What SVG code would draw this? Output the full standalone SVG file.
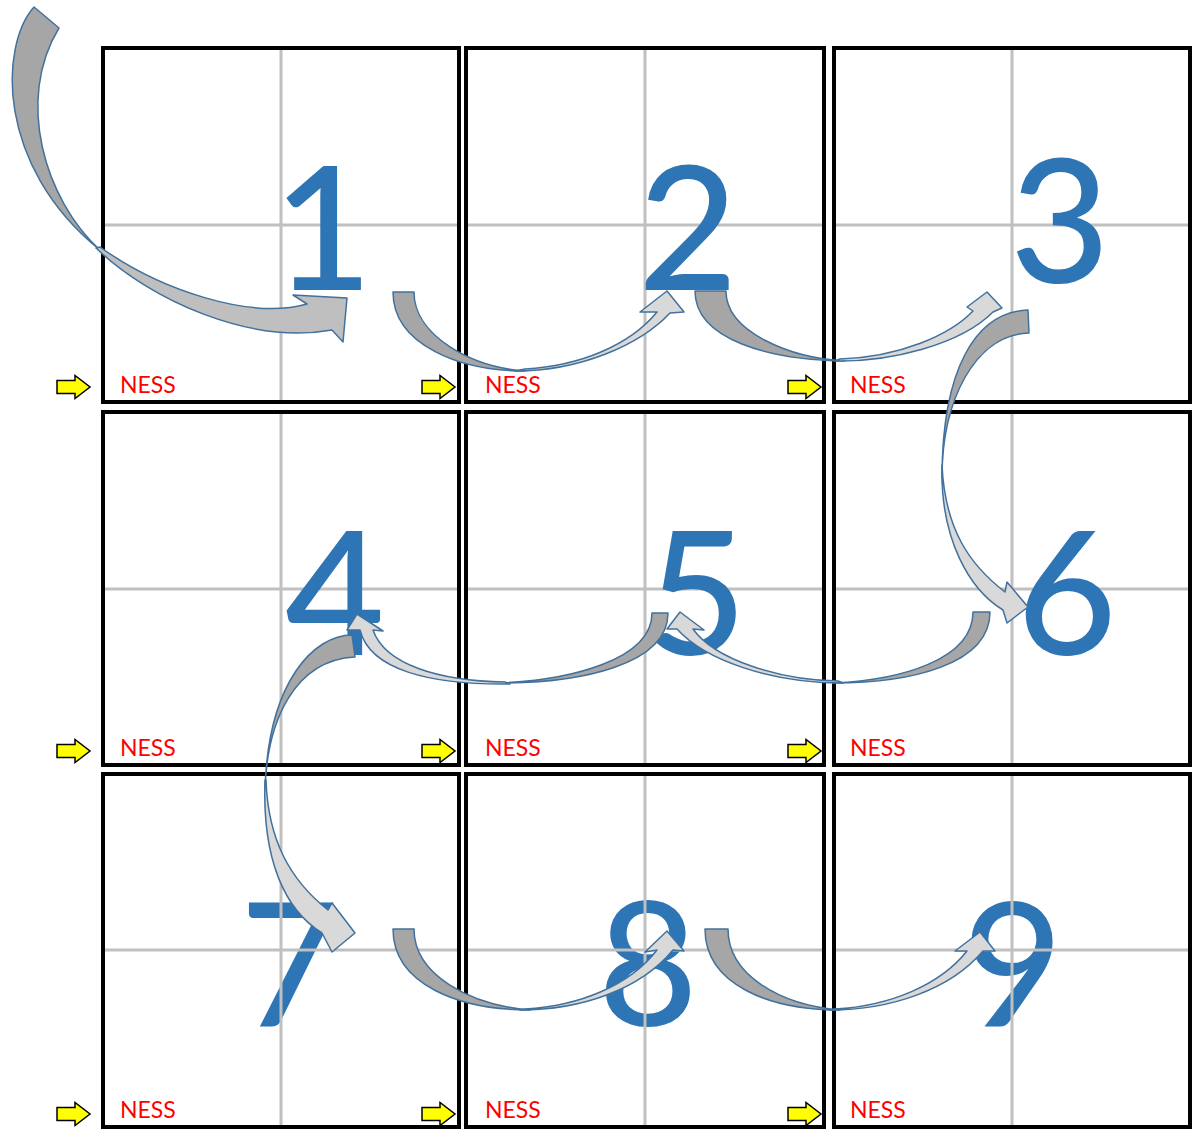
<svg xmlns="http://www.w3.org/2000/svg" width="1195" height="1130" viewBox="0 0 1195 1130">
<style>
.box{fill:#fff;stroke:#000;stroke-width:4}
.grid{stroke:#C0C0C0;stroke-width:3;fill:none}
.num{font-family:Lato,"Open Sans","DejaVu Sans",sans-serif;font-size:172px;font-weight:500;fill:#2E75B6;text-anchor:middle}
.ness{font-family:Lato,"Liberation Sans",sans-serif;font-size:23px;fill:#FF0000}
.ya{fill:#FFFF00;stroke:#000;stroke-width:1.5;stroke-linejoin:miter}
.dark{fill:#A6A6A6;stroke:#41719C;stroke-width:1.5;stroke-linejoin:round}
.light{fill:#D9D9D9;stroke:#41719C;stroke-width:1.5;stroke-linejoin:round}
.lightA{fill:#BFBFBF;stroke:#41719C;stroke-width:1.5;stroke-linejoin:round}
</style>
<defs>
<path id="yarrow" class="ya" d="M0,-6.5 L18,-6.5 L18,-11.5 L33,0 L18,11.5 L18,6.5 L0,6.5 Z"/>
</defs>
<rect width="1195" height="1130" fill="#fff"/>

<g id="box1">
<rect class="box" x="103" y="48" width="356" height="354"/>
<line class="grid" x1="281" y1="50" x2="281" y2="400"/>
<line class="grid" x1="105" y1="225" x2="457" y2="225"/>
<text class="num" x="323" y="290">1</text>
<text class="ness" x="120" y="393">NESS</text>
</g>
<g id="box2">
<rect class="box" x="466" y="48" width="358" height="354"/>
<line class="grid" x1="645" y1="50" x2="645" y2="400"/>
<line class="grid" x1="468" y1="225" x2="822" y2="225"/>
<text class="num" x="688" y="290">2</text>
<text class="ness" x="485" y="393">NESS</text>
</g>
<g id="box3">
<rect class="box" x="834" y="48" width="356" height="354"/>
<line class="grid" x1="1012" y1="50" x2="1012" y2="400"/>
<line class="grid" x1="836" y1="225" x2="1188" y2="225"/>
<text class="num" x="1060" y="283">3</text>
<text class="ness" x="850" y="393">NESS</text>
</g>

<g id="box4">
<rect class="box" x="103" y="412" width="356" height="353"/>
<line class="grid" x1="281" y1="414" x2="281" y2="763"/>
<line class="grid" x1="105" y1="589" x2="457" y2="589"/>
<text class="num" x="335" y="655">4</text>
<text class="ness" x="120" y="756">NESS</text>
</g>
<g id="box5">
<rect class="box" x="466" y="412" width="358" height="353"/>
<line class="grid" x1="645" y1="414" x2="645" y2="763"/>
<line class="grid" x1="468" y1="589" x2="822" y2="589"/>
<text class="num" x="697" y="655">5</text>
<text class="ness" x="485" y="756">NESS</text>
</g>
<g id="box6">
<rect class="box" x="834" y="412" width="356" height="353"/>
<line class="grid" x1="1012" y1="414" x2="1012" y2="763"/>
<line class="grid" x1="836" y1="589" x2="1188" y2="589"/>
<text class="num" x="1067" y="655">6</text>
<text class="ness" x="850" y="756">NESS</text>
</g>

<g id="box7">
<rect class="box" x="103" y="774" width="356" height="353"/>
<text class="num" x="290" y="1026">7</text>
<line class="grid" x1="281" y1="776" x2="281" y2="1125"/>
<line class="grid" x1="105" y1="950" x2="457" y2="950"/>
<text class="ness" x="120" y="1118">NESS</text>
</g>
<g id="box8">
<rect class="box" x="466" y="774" width="358" height="353"/>
<text class="num" x="648" y="1026">8</text>
<line class="grid" x1="645" y1="776" x2="645" y2="1125"/>
<line class="grid" x1="468" y1="950" x2="822" y2="950"/>
<text class="ness" x="485" y="1118">NESS</text>
</g>
<g id="box9">
<rect class="box" x="834" y="774" width="356" height="353"/>
<text class="num" x="1013" y="1026">9</text>
<line class="grid" x1="1012" y1="776" x2="1012" y2="1125"/>
<line class="grid" x1="836" y1="950" x2="1188" y2="950"/>
<text class="ness" x="850" y="1118">NESS</text>
</g>

<g id="markers">
<use href="#yarrow" x="57" y="387"/>
<use href="#yarrow" x="422" y="387"/>
<use href="#yarrow" x="788" y="387"/>
<use href="#yarrow" x="57" y="751"/>
<use href="#yarrow" x="422" y="751"/>
<use href="#yarrow" x="788" y="751"/>
<use href="#yarrow" x="57" y="1114"/>
<use href="#yarrow" x="422" y="1114"/>
<use href="#yarrow" x="788" y="1114"/>
</g>

<g id="connectors">
<path class="dark" d="M34,7 C0,45 -5,165 100,250 C45,200 15,100 59,28 Z"/>
<path class="lightA" d="M96,248 C150,300 250,345 332,330 L343,342 L347,298 L293,295 L307,304 C250,320 160,290 100,247 Z"/>
<path class="dark" d="M393,292 C393,345 460,371 525,371 C470,367 414,335 414,292 Z"/>
<path class="light" d="M515,371 C580,371 640,345 670,313 L684,312 L667,291 L640,312 L657,312 C630,345 580,366 525,369 Z"/>
<path class="dark" d="M695,291 C695,340 770,360 845,361 C790,358 726,332 726,291 Z"/>
<path class="light" d="M835,361 C890,362 960,345 993,312 L1002,308 L987,292 L967,307 L973,311 C950,335 900,357 840,359 Z"/>
<path class="dark" d="M1028,310 C975,312 942,370 942,478 C942,400 975,335 1029,333 Z"/>
<path class="light" d="M942,465 C940,540 970,590 1003,610 L1007,623 L1028,607 L1007,582 L1005,592 C970,565 945,530 942,465 Z"/>
<path class="dark" d="M990,612 C990,665 910,683 833,683 C900,680 973,660 973,612 Z"/>
<path class="light" d="M843,683 C770,683 705,660 677,629 L667,629 L680,612 L704,630 L693,629 C715,660 780,680 838,681 Z"/>
<path class="dark" d="M668,613 C668,665 580,683 500,683 C570,680 652,660 652,613 Z"/>
<path class="light" d="M510,684 C430,685 370,670 360,630 L347,630 L357,614 L383,631 L373,630 C385,665 440,681 505,682 Z"/>
<path class="dark" d="M352,635 C315,635 268,680 265,790 C267,720 295,660 355,657 Z"/>
<path class="light" d="M265,780 C262,860 285,910 322,933 L332,952 L355,933 L332,903 L328,910 C290,880 268,840 266,780 Z"/>
<path class="dark" d="M393,929 C393,985 460,1010 530,1010 C470,1005 414,975 414,929 Z"/>
<path class="light" d="M520,1010 C580,1010 640,990 673,950 L684,951 L667,931 L645,952 L657,950 C630,985 580,1006 525,1009 Z"/>
<path class="dark" d="M705,929 C705,985 770,1010 840,1010 C780,1005 728,975 728,929 Z"/>
<path class="light" d="M830,1010 C890,1010 950,990 983,951 L995,951 L980,932 L955,951 L967,951 C940,985 890,1006 835,1009 Z"/>
</g>
</svg>
